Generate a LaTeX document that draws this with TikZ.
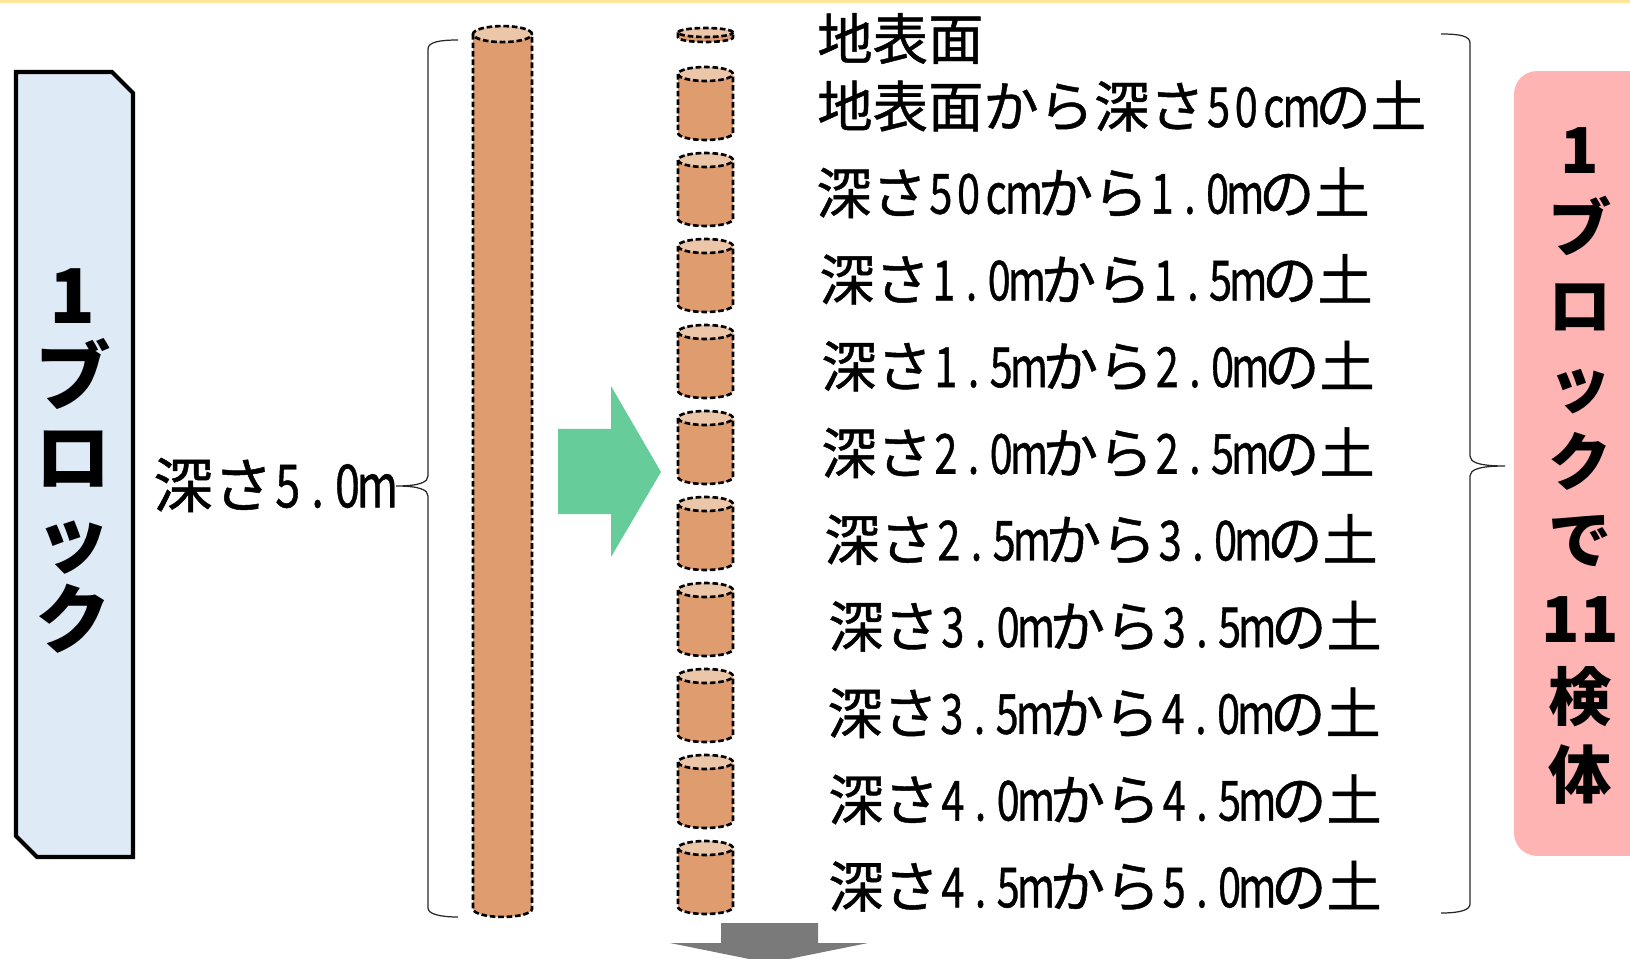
\documentclass[tikz,border=0pt]{standalone}
\usepackage{graphicx}
\usepackage{fontspec}
\setmainfont{Noto Sans CJK JP}[UprightFeatures={FakeBold=0.8}]
\usetikzlibrary{shapes.geometric, positioning}
\definecolor{bandyellow}{HTML}{FFE699}
\definecolor{blockblue}{HTML}{DEEBF7}
\definecolor{soilbrown}{HTML}{DF9C6E}
\definecolor{soiltop}{HTML}{ECC6A9}
\definecolor{arrowgreen}{HTML}{66CC99}
\definecolor{arrowgray}{HTML}{7A7A7A}
\definecolor{samplepink}{HTML}{FFB4B4}

% digits and units sit in narrow half-width cells
\def\halfwloop#1{\ifx#1\relax\else\makebox[.5em]{\scalebox{0.75}[1]{#1}}\expandafter\halfwloop\fi}
\newcommand\halfw[1]{\halfwloop#1\relax}

% soil core: half width, half distance of the two ends, end radius
\tikzset{
  coreline/.style={line width=1.5pt, dash pattern=on 3.2pt off 1.6pt},
  pics/soilcore/.style n args={3}{code={
    \fill[soilbrown] (-#1,#2) -- (-#1,-#2) arc[start angle=180, end angle=360, x radius=#1, y radius=#3] -- (#1,#2) -- cycle;
    \filldraw[fill=soiltop, coreline] (0,#2) ellipse[x radius=#1, y radius=#3];
    \draw[coreline] (-#1,#2) -- (-#1,-#2) arc[start angle=180, end angle=360, x radius=#1, y radius=#3] -- (#1,#2);
  }}
}

\begin{document}
\begin{tikzpicture}[x=0.02cm, y=-0.02cm,
  layer/.style={anchor=west, inner sep=0pt, font=\fontsize{31.5}{36}\selectfont},
  bracket/.style={line width=0.7pt, black!85}]
\useasboundingbox (0,0) rectangle (1630,959);
\fill[bandyellow] (0,0) rectangle (1630,3);

% one block on the left
\draw[line width=2.3pt, fill=blockblue] (16,72) -- (112,72) -- (133,93) -- (133,857) -- (37,857) -- (16,836) -- cycle;
\node[font=\bfseries\fontsize{43}{46}\selectfont, align=center, inner sep=0pt] (blocktext) at (73,461) {1\\ブ\\ロ\\ッ\\ク};

\node[font=\fontsize{34}{40}\selectfont, anchor=west, inner sep=0pt] (depth) at (153,485) {深さ\halfw{5.0m}};
\draw[bracket] (458,40) .. controls (440,40) and (428,42) .. (428,49) -- (428,476)
  .. controls (428,482) and (420,486) .. (396,486) .. controls (420,486) and (428,490) .. (428,496)
  -- (428,908) .. controls (428,914) and (440,917) .. (458,917);

% whole core
\pic (column) at (502.5,471.5) {soilcore={0.59cm}{8.75cm}{0.16cm}};

\fill[arrowgreen] (558,429) -- (611,429) -- (611,386) -- (661,472) -- (611,557) -- (611,514) -- (558,514) -- cycle;

% cut into 50cm pieces
\pic (core0) at (705.5,35) {soilcore={0.55cm}{0.05cm}{0.09cm}};
\foreach \i in {1,...,10}
  \pic (core\i) at (705.5,{103.5+86*(\i-1)}) {soilcore={0.55cm}{0.59cm}{0.14cm}};

\node[layer] (layer0) at (817,38.5) {地表面};
\foreach \i/\xx/\txt in {1/817/{地表面から深さ\halfw{50cm}の土},
    2/816/{深さ\halfw{50cm}から\halfw{1.0m}の土},
    3/819/{深さ\halfw{1.0m}から\halfw{1.5m}の土},
    4/821/{深さ\halfw{1.5m}から\halfw{2.0m}の土},
    5/821/{深さ\halfw{2.0m}から\halfw{2.5m}の土},
    6/824/{深さ\halfw{2.5m}から\halfw{3.0m}の土},
    7/828/{深さ\halfw{3.0m}から\halfw{3.5m}の土},
    8/827/{深さ\halfw{3.5m}から\halfw{4.0m}の土},
    9/828/{深さ\halfw{4.0m}から\halfw{4.5m}の土},
    10/828/{深さ\halfw{4.5m}から\halfw{5.0m}の土}}
  \node[layer] (layer\i) at (\xx,{106+86.7*(\i-1)}) {\txt};

\draw[bracket] (1441,34) .. controls (1460,34) and (1470,36) .. (1470,43) -- (1470,456)
  .. controls (1470,462) and (1478,466) .. (1505,466) .. controls (1478,466) and (1470,470) .. (1470,476)
  -- (1470,904) .. controls (1470,910) and (1460,913) .. (1441,913);

% samples per block
\node[rectangle, rounded corners=0.46cm, fill=samplepink, minimum width=2.8cm, minimum height=15.7cm] (samples) at (1584,463.5) {};
\node[font=\bfseries\fontsize{36}{44.4}\selectfont, align=center, inner sep=0pt] (samplestext) at (1580,466) {1\\ブ\\ロ\\ッ\\ク\\で\\11\\検\\体};

\fill[arrowgray] (721,923) -- (818,923) -- (818,943) -- (868,943) -- (769,963) -- (670,943) -- (721,943) -- cycle;
\end{tikzpicture}
\end{document}
